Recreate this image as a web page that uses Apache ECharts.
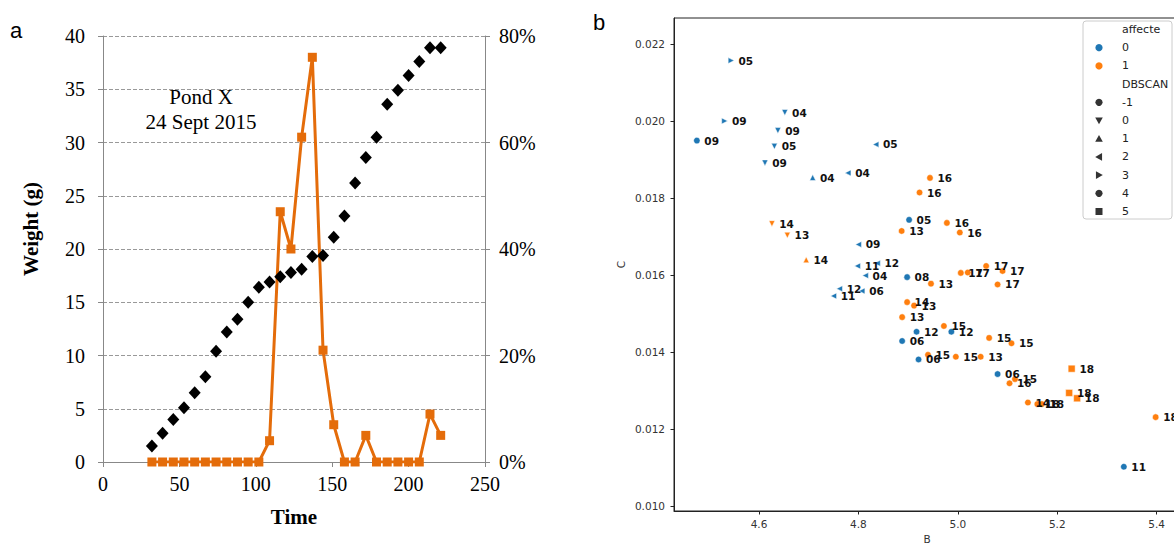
<!DOCTYPE html>
<html>
<head>
<meta charset="utf-8">
<script src="https://cdn.jsdelivr.net/npm/echarts@6/dist/echarts.min.js"></script>
<style>
html,body{margin:0;padding:0;background:#fff;}
#chart{width:1174px;height:545px;}
</style>
</head>
<body>
<div id="chart"></div>
<script>
// ---------- Panel a data ----------
const times = [32,39,46,53,60,67,74,81,88,95,102,109,116,123,130,137,144,151,158,165,172,179,186,193,200,207,214,221];
const weight = [1.5,2.7,4.0,5.1,6.5,8.0,10.4,12.2,13.4,15.0,16.4,16.9,17.4,17.8,18.1,19.3,19.4,21.1,23.1,26.2,28.6,30.5,33.6,34.9,36.3,37.6,38.9,38.9];
const pctAffected = [0,0,0,0,0,0,0,0,0,0,0,4,47,40,61,76,21,7,0,0,5,0,0,0,0,0,9,5];
const timeTicks = [0,50,100,150,200,250];
const weightTicks = [0,5,10,15,20,25,30,35,40];
const pctTicks = [0,20,40,60,80];

// ---------- Panel b data ----------
const bVals = [4.544,4.531,4.475,4.652,4.638,4.631,4.612,4.708,4.779,4.835,
               4.626,4.657,4.695,4.800,4.798,4.838,4.814,4.762,4.750,4.807,
               4.898,4.946,4.898,4.912,4.888,4.917,4.972,4.987,4.888,4.921,
               4.940,4.996,5.046,5.063,5.108,5.080,4.944,4.923,4.902,4.887,
               4.978,5.004,5.006,5.020,5.057,5.090,5.080,5.104,5.115,5.141,
               5.160,5.169,5.229,5.224,5.240,5.398,5.334];
const cVals = [0.02158,0.02001,0.01950,0.02023,0.01976,0.01935,0.01892,0.01854,0.01866,0.01940,
               0.01734,0.01704,0.01640,0.01680,0.01624,0.01631,0.01599,0.01565,0.01546,0.01559,
               0.01595,0.01578,0.01530,0.01521,0.01491,0.01453,0.01468,0.01453,0.01429,0.01381,
               0.01393,0.01388,0.01388,0.01437,0.01423,0.01343,0.01853,0.01815,0.01744,0.01715,
               0.01736,0.01711,0.01606,0.01607,0.01624,0.01611,0.01576,0.01319,0.01330,0.01269,
               0.01265,0.01265,0.01357,0.01294,0.01280,0.01231,0.01102];
const ptLabels = ["05","09","09","04","09","05","09","04","04","05",
                  "14","13","14","09","11","12","04","12","11","06",
                  "08","13","14","13","13","12","15","12","06","06",
                  "15","15","13","15","15","06","16","16","05","13",
                  "16","16","17","17","17","17","17","16","15","14",
                  "18","18","18","18","18","18","11"];
const affecte = [0,0,0,0,0,0,0,0,0,0,
                 1,1,1,0,0,0,0,0,0,0,
                 0,1,1,1,1,0,1,0,0,0,
                 1,1,1,1,1,0,1,1,0,1,
                 1,1,1,1,1,1,1,1,1,1,
                 1,1,1,1,1,1,0];
const dbscan = [3,3,-1,0,0,0,0,1,2,2,
                0,0,1,2,2,2,2,2,2,2,
                4,4,4,4,4,4,4,4,4,4,
                4,4,4,4,4,4,4,4,4,4,
                4,4,4,4,4,4,4,4,4,4,
                4,4,5,5,5,-1,-1];
const bTicks = [4.6,4.8,5.0,5.2,5.4];
const cTicks = [0.010,0.012,0.014,0.016,0.018,0.020,0.022];
const affecteLevels = ["0","1"];
const dbscanLevels = ["-1","0","1","2","3","4","5"];

// ---------- styles ----------
const ORANGE = '#E46C0A';
const SB_COLORS = ['#1f77b4', '#ff7f0e'];
const SERIF = '"Liberation Serif", "DejaVu Serif", serif';
const SANS = '"DejaVu Sans", sans-serif';
const markerFor = {
  '-1': {symbol: 'circle', rot: 0, size: 6.5},
  '0': {symbol: 'triangle', rot: 180, size: 6},
  '1': {symbol: 'triangle', rot: 0, size: 6},
  '2': {symbol: 'triangle', rot: 90, size: 6},
  '3': {symbol: 'triangle', rot: -90, size: 6},
  '4': {symbol: 'circle', rot: 0, size: 6.5},
  '5': {symbol: 'rect', rot: 0, size: 7}
};

const scatterB = bVals.map((b, i) => {
  const m = markerFor[String(dbscan[i])];
  return {
    name: ptLabels[i],
    value: [b, cVals[i]],
    symbol: m.symbol,
    symbolRotate: m.rot,
    symbolSize: m.size,
    itemStyle: {color: SB_COLORS[affecte[i]], borderColor: '#fff', borderWidth: 0.5, opacity: 1}
  };
});

// ---------- legend graphics for panel b ----------
const legendEls = [];
const LX = 1099, TX = 1122, LY0 = 29.5, LDY = 18.2;
legendEls.push({type: 'rect', shape: {x: 1083, y: 21, width: 89, height: 198, r: 3},
  style: {fill: 'rgba(255,255,255,0.85)', stroke: '#cccccc', lineWidth: 1}, z: 50});
const legRows = [{t: 'affecte'}].concat(
  affecteLevels.map((a, i) => ({t: a, kind: 'color', c: SB_COLORS[i]})),
  [{t: 'DBSCAN'}],
  dbscanLevels.map(d => ({t: d, kind: 'shape', d: d}))
);
legRows.forEach((row, i) => {
  const y = LY0 + LDY * i;
  legendEls.push({type: 'text', x: TX, y: y, z: 51,
    style: {text: row.t, font: '11px ' + SANS, fill: '#222', textVerticalAlign: 'middle', textAlign: 'left'}});
  if (row.kind === 'color') {
    legendEls.push({type: 'circle', shape: {cx: LX, cy: y, r: 3.6}, style: {fill: row.c}, z: 51});
  } else if (row.kind === 'shape') {
    const g = '#333';
    const s = 3.8;
    if (row.d === '-1' || row.d === '4') {
      legendEls.push({type: 'circle', shape: {cx: LX, cy: y, r: 3.6}, style: {fill: g}, z: 51});
    } else if (row.d === '5') {
      legendEls.push({type: 'rect', shape: {x: LX - 3.5, y: y - 3.5, width: 7, height: 7}, style: {fill: g}, z: 51});
    } else {
      let pts;
      if (row.d === '0') pts = [[LX - s, y - s * 0.8], [LX + s, y - s * 0.8], [LX, y + s]];
      else if (row.d === '1') pts = [[LX - s, y + s * 0.8], [LX + s, y + s * 0.8], [LX, y - s]];
      else if (row.d === '2') pts = [[LX + s * 0.8, y - s], [LX + s * 0.8, y + s], [LX - s, y]];
      else pts = [[LX - s * 0.8, y - s], [LX - s * 0.8, y + s], [LX + s, y]];
      legendEls.push({type: 'polygon', shape: {points: pts}, style: {fill: g}, z: 51});
    }
  }
});

const chart = echarts.init(document.getElementById('chart'), null, {renderer: 'svg'});
const option = {
  animation: false,
  backgroundColor: '#fff',
  grid: [
    {left: 103, top: 36, right: 689, bottom: 83, outerBoundsMode: 'none', containLabel: false},
    {left: 674, top: 18, right: -6, bottom: 34, outerBoundsMode: 'none', containLabel: false,
     show: true, borderColor: '#222', borderWidth: 1, backgroundColor: 'transparent'}
  ],
  xAxis: [
    {gridIndex: 0, type: 'value', min: timeTicks[0], max: timeTicks[timeTicks.length - 1], interval: 50,
     axisLine: {show: true, lineStyle: {color: '#888', width: 1}},
     axisTick: {show: true, length: 5, lineStyle: {color: '#888'}},
     axisLabel: {fontFamily: SERIF, fontSize: 20, color: '#000', margin: 12},
     splitLine: {show: false},
     name: 'Time', nameLocation: 'middle', nameGap: 44,
     nameTextStyle: {fontFamily: SERIF, fontWeight: 'bold', fontSize: 21, color: '#000'}},
    {gridIndex: 1, type: 'value', min: 4.429, max: 5.447,
     axisLine: {show: true, lineStyle: {color: '#222', width: 1}},
     axisTick: {show: true, length: 3.5, customValues: bTicks, lineStyle: {color: '#222'}},
     axisLabel: {customValues: bTicks, formatter: v => Number(v).toFixed(1), fontFamily: SANS, fontSize: 10.5, color: '#333', margin: 7},
     splitLine: {show: false},
     name: 'B', nameLocation: 'middle', nameGap: 22,
     nameTextStyle: {fontFamily: SANS, fontSize: 10.5, color: '#333'}}
  ],
  yAxis: [
    {gridIndex: 0, type: 'value', position: 'left', min: weightTicks[0], max: weightTicks[weightTicks.length - 1], interval: 5,
     axisLine: {show: true, lineStyle: {color: '#888', width: 1}},
     axisTick: {show: true, length: 5, lineStyle: {color: '#888'}},
     axisLabel: {fontFamily: SERIF, fontSize: 20, color: '#000', margin: 18},
     splitLine: {show: true, lineStyle: {color: '#999', type: [4, 2], width: 1}},
     name: 'Weight (g)', nameLocation: 'middle', nameGap: 62, nameRotate: 90,
     nameTextStyle: {fontFamily: SERIF, fontWeight: 'bold', fontSize: 21, color: '#000', padding: [0, 0, 0, 40]}},
    {gridIndex: 0, type: 'value', position: 'right', min: pctTicks[0], max: pctTicks[pctTicks.length - 1], interval: 20,
     axisLine: {show: true, lineStyle: {color: '#888', width: 1}},
     axisTick: {show: true, length: 5, lineStyle: {color: '#888'}},
     axisLabel: {formatter: '{value}%', fontFamily: SERIF, fontSize: 20, color: '#000', margin: 14},
     splitLine: {show: false}},
    {gridIndex: 1, type: 'value', min: 0.00987, max: 0.022687,
     axisLine: {show: true, lineStyle: {color: '#222', width: 1}},
     axisTick: {show: true, length: 3.5, customValues: cTicks, lineStyle: {color: '#222'}},
     axisLabel: {customValues: cTicks, formatter: v => Number(v).toFixed(3), fontFamily: SANS, fontSize: 10.5, color: '#333', margin: 9},
     splitLine: {show: false},
     name: 'C', nameLocation: 'middle', nameGap: 48, nameRotate: 90,
     nameTextStyle: {fontFamily: SANS, fontSize: 10.5, color: '#333'}}
  ],
  series: [
    {type: 'line', name: 'affected', xAxisIndex: 0, yAxisIndex: 1,
     data: times.map((t, i) => [t, pctAffected[i]]),
     symbol: 'rect', symbolSize: 9,
     itemStyle: {color: ORANGE, opacity: 1}, lineStyle: {color: ORANGE, width: 3}, z: 2},
    {type: 'scatter', name: 'weight', xAxisIndex: 0, yAxisIndex: 0,
     data: times.map((t, i) => [t, weight[i]]),
     symbol: 'diamond', symbolSize: [12, 13],
     itemStyle: {color: '#000', opacity: 1}, z: 3},
    {type: 'scatter', name: 'BC', xAxisIndex: 1, yAxisIndex: 2,
     data: scatterB,
     itemStyle: {opacity: 1},
     label: {show: true, position: 'right', distance: 4, offset: [0, -3], formatter: p => p.name,
       fontFamily: SANS, fontWeight: 'bold', fontSize: 10.5, color: '#111'},
     labelLayout: {hideOverlap: false},
     z: 4}
  ],
  graphic: [
    {type: 'text', x: 10, y: 30, style: {text: 'a', font: '22px "Liberation Sans", sans-serif', fill: '#000', textVerticalAlign: 'middle'}},
    {type: 'text', x: 593, y: 22, style: {text: 'b', font: '22px "Liberation Sans", sans-serif', fill: '#000', textVerticalAlign: 'middle'}},
    {type: 'text', x: 201, y: 97, style: {text: 'Pond X', font: '21px ' + SERIF, fill: '#000', textAlign: 'center', textVerticalAlign: 'middle'}},
    {type: 'text', x: 201, y: 122, style: {text: '24 Sept 2015', font: '21px ' + SERIF, fill: '#000', textAlign: 'center', textVerticalAlign: 'middle'}}
  ].concat(legendEls)
};
chart.setOption(option);
</script>
</body>
</html>
